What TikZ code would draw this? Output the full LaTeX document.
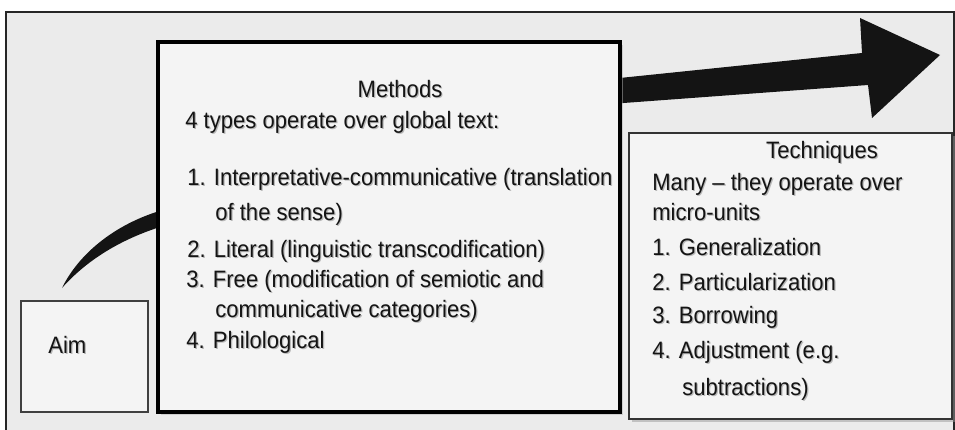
\documentclass[tikz,border=0pt]{standalone}
\usepackage{fontspec}
\setmainfont{Liberation Sans}[FakeStretch=0.93]
\usetikzlibrary{shadows}
\definecolor{framegrey}{HTML}{EBEBEB}
\definecolor{boxgrey}{HTML}{F4F4F4}
\definecolor{inkgrey}{HTML}{141414}
\newcommand\shtxt[1]{\rlap{\kern0.7pt\raisebox{-0.7pt}{\textcolor{black!28}{#1}}}#1}
\tikzset{
	txt/.style={inner sep=0pt, anchor=base west, text=inkgrey, font=\fontsize{13.5}{16}\selectfont},
	ttl/.style={txt, anchor=base},
	aimbox/.style={draw=black!75, line width=0.8pt, fill=boxgrey, inner sep=0pt},
	bigbox/.style={draw=black, line width=1.8pt, fill=boxgrey, inner sep=0pt, drop shadow={shadow xshift=1.5pt, shadow yshift=-1.5pt, fill=black!30}},
	techbox/.style={draw=black!80, line width=1.2pt, fill=boxgrey, inner sep=0pt, drop shadow={shadow xshift=1.8pt, shadow yshift=-1.8pt, fill=black!40}}
}

\begin{document}
\begin{tikzpicture}[x=0.02cm, y=-0.02cm]
			\useasboundingbox (0,0) rectangle (955,429);
			\clip (0,0) rectangle (955,429);
			%%%%% START %%%%%
			
			\draw[line width=1.1pt, color=black!85, fill=framegrey] (6, 12) rectangle (954, 440);
			
			\fill[inkgrey] (62, 288) .. controls (78, 255) and (115, 222) .. (170, 208) -- (610, 79) -- (862, 53) -- (860, 18) -- (940, 55) -- (872, 118) -- (868, 85) -- (610, 104) -- (170, 224) .. controls (120, 238) and (85, 262) .. (62, 288) -- cycle;
			
			\node[aimbox, minimum width=2.54cm, minimum height=2.22cm] (aim) at (84.5, 356.5) {};
			\node[bigbox, minimum width=9.24cm, minimum height=7.4cm] (methods) at (389, 227) {};
			\node[techbox, minimum width=6.46cm, minimum height=5.72cm] (techniques) at (790.5, 276) {};
			
			\node[txt] (aimtext) at (48, 353) {\shtxt{Aim}};
			
			\node[ttl] (methodstitle) at (400, 97) {\shtxt{Methods}};
			\node[txt] (methodsintro) at (185, 128) {\shtxt{4 types operate over global text:}};
			\node[txt] (methodsone) at (187, 185) {\shtxt{1. Interpretative-communicative (translation}};
			\node[txt] (methodsonecont) at (215, 220) {\shtxt{of the sense)}};
			\node[txt] (methodstwo) at (187, 257) {\shtxt{2. Literal (linguistic transcodification)}};
			\node[txt] (methodsthree) at (186, 287) {\shtxt{3. Free (modification of semiotic and}};
			\node[txt] (methodsthreecont) at (215, 317) {\shtxt{communicative categories)}};
			\node[txt] (methodsfour) at (186, 348) {\shtxt{4. Philological}};
			
			\node[ttl] (techtitle) at (822, 158) {\shtxt{Techniques}};
			\node[txt] (techintro) at (652, 190) {\shtxt{Many -- they operate over}};
			\node[txt] (techintrocont) at (652, 220) {\shtxt{micro-units}};
			\node[txt] (techone) at (652, 255) {\shtxt{1. Generalization}};
			\node[txt] (techtwo) at (652, 290) {\shtxt{2. Particularization}};
			\node[txt] (techthree) at (652, 323) {\shtxt{3. Borrowing}};
			\node[txt] (techfour) at (652, 358) {\shtxt{4. Adjustment (e.g.}};
			\node[txt] (techfourcont) at (682, 395) {\shtxt{subtractions)}};
			
			%%%%% END %%%%%
\end{tikzpicture}
\end{document}
